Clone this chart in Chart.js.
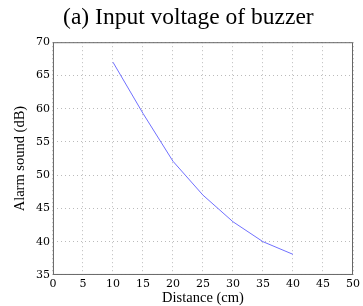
<!DOCTYPE html>
<html>
<head>
<meta charset="utf-8">
<script src="https://cdn.jsdelivr.net/npm/chart.js@4/dist/chart.umd.min.js"></script>
<style>
  html, body { margin: 0; padding: 0; background: #fff; }
  #wrap { width: 363px; height: 306px; }
</style>
</head>
<body>
<div id="wrap"><canvas id="myChart"></canvas></div>
<script>
'use strict';
let distances = [10, 15, 20, 25, 30, 35, 40];
let soundLevels = [67, 59.3, 52.1, 47, 43, 40, 38.1];
let xTicks = [0, 5, 10, 15, 20, 25, 30, 35, 40, 45, 50];
let yTicks = [35, 40, 45, 50, 55, 60, 65, 70];

let points = [];
for (let i = 0; i < distances.length; i++) {
  points.push({ x: distances[i], y: soundLevels[i] });
}

// box round the plot area, like the matlab figure
let boxPlugin = {
  id: 'box',
  afterDraw(chart) {
    let a = chart.chartArea;
    let ctx = chart.ctx;
    ctx.save();
    ctx.strokeStyle = '#666';
    ctx.lineWidth = 1;
    ctx.strokeRect(a.left + 0.5, a.top + 0.5, a.right - a.left - 1, a.bottom - a.top - 1);
    ctx.restore();
  }
};

let tickFont = { family: 'DejaVu Serif', size: 11, lineHeight: 1.1 };
let labelFont = { family: 'Liberation Serif', size: 14.5, lineHeight: 1.1 };
let ctx = document.getElementById('myChart').getContext('2d');
let myChart = new Chart(ctx, {
  type: 'line',
  data: {
    datasets: [{
      data: points,
      borderColor: '#7070ff',
      borderWidth: 1,
      pointRadius: 0,
      tension: 0,
      fill: false
    }]
  },
  options: {
    responsive: true,
    maintainAspectRatio: false,
    animation: false,
    layout: { padding: { left: 12, right: 10, top: 0, bottom: 0 } },
    plugins: {
      legend: { display: false },
      tooltip: { enabled: false },
      title: {
        display: true,
        text: '\u2002(a) Input voltage of buzzer',
        color: '#000',
        font: { family: 'Liberation Serif', size: 23.5, weight: 'normal' },
        padding: { top: 4, bottom: 10 }
      }
    },
    scales: {
      x: {
        type: 'linear',
        min: 0,
        max: 50,
        afterBuildTicks(axis) { axis.ticks = xTicks.map(v => ({ value: v })); },
        grid: { color: '#bbb', lineWidth: 1, drawTicks: false },
        border: { display: false, dash: [1, 3] },
        ticks: { color: '#000', font: tickFont, padding: 3, maxRotation: 0 },
        title: { display: true, text: 'Distance (cm)', color: '#000', font: labelFont, padding: { top: -3, bottom: 0 } }
      },
      y: {
        min: 35,
        max: 70,
        afterBuildTicks(axis) { axis.ticks = yTicks.map(v => ({ value: v })); },
        grid: { color: '#bbb', lineWidth: 1, drawTicks: false },
        border: { display: false, dash: [1, 3] },
        ticks: { color: '#000', font: tickFont, padding: 3 },
        title: { display: true, text: 'Alarm sound (dB)', color: '#000', font: labelFont, padding: { top: 0, bottom: 5 } }
      }
    }
  },
  plugins: [boxPlugin]
});
</script>
</body>
</html>
